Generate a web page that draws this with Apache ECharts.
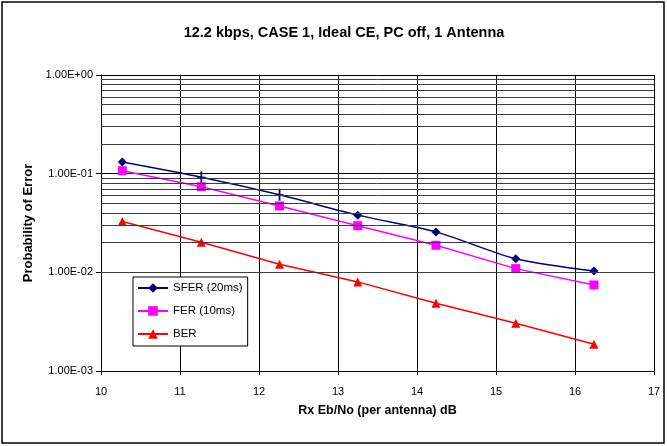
<!DOCTYPE html>
<html>
<head>
<meta charset="utf-8">
<script src="https://cdn.jsdelivr.net/npm/echarts@6/dist/echarts.min.js"></script>
<style>
  html, body { margin: 0; padding: 0; background: #fff; }
  #chart { width: 667px; height: 446px; }
</style>
</head>
<body>
<div id="chart"></div>
<script>
// Rx Eb/No in dB
const ebno = [10.27, 11.27, 12.26, 13.25, 14.24, 15.25, 16.24];
// Error probabilities per measurement type
const sfer = [0.131, 0.092, 0.061, 0.038, 0.0257, 0.0137, 0.0103];
const fer  = [0.107, 0.0738, 0.0471, 0.0297, 0.0188, 0.0109, 0.00745];
const ber  = [0.0327, 0.0202, 0.0121, 0.0080, 0.00486, 0.00305, 0.00187];
const seriesNames = ['SFER (20ms)', 'FER (10ms)', 'BER'];
// minor gridlines of the log axis: 2..9 within each decade
const minorLevels = [];
[0.001, 0.01, 0.1].forEach(function (d) {
  for (let m = 2; m <= 9; m++) minorLevels.push(+(m * d).toPrecision(3));
});

const FONT = '"Liberation Sans", Arial, sans-serif';

function sciLabel(v) {
  const e = Math.round(Math.log10(v));
  const m = v / Math.pow(10, e);
  return m.toFixed(2) + 'E' + (e < 0 ? '-' : '+') + String(Math.abs(e)).padStart(2, '0');
}

function pairs(ys) {
  return ebno.map(function (x, i) { return [x, ys[i]]; });
}

// the 2nd and 3rd SFER points are drawn with a thin upright tick
const sferData = pairs(sfer).map(function (p, i) {
  if (i === 1 || i === 2) {
    return { value: p, symbol: 'path://M4,0h2v5h4v1h-4v5h-2v-5h-4v-1h4z', symbolSize: [9, 12] };
  }
  return p;
});

const chart = echarts.init(document.getElementById('chart'), null, { renderer: 'canvas' });
chart.setOption({
  animation: false,
  backgroundColor: '#fff',
  textStyle: { fontFamily: FONT },
  title: {
    text: '12.2 kbps, CASE 1, Ideal CE, PC off, 1 Antenna',
    left: 339, top: 20, textAlign: 'center',
    textStyle: { fontFamily: FONT, fontSize: 14.5, fontWeight: 'bold', color: '#000' }
  },
  graphic: [{
    type: 'rect', silent: true, z: 100,
    shape: { x: 2, y: 2, width: 662, height: 441 },
    style: { fill: 'none', stroke: '#000', lineWidth: 1.5 }
  }],
  legend: {
    orient: 'vertical', left: 133, top: 277,
    data: seriesNames,
    itemWidth: 30, itemHeight: 12, itemGap: 11,
    padding: [5, 5, 6, 4],
    borderColor: '#000', borderWidth: 1, backgroundColor: '#fff',
    textStyle: { fontFamily: FONT, fontSize: 11.5, color: '#000' }
  },
  grid: { left: 101, right: 13, top: 75, bottom: 75, containLabel: false },
  xAxis: {
    type: 'value', min: 10, max: 17, interval: 1,
    name: 'Rx Eb/No (per antenna) dB', nameLocation: 'middle', nameGap: 33,
    nameTextStyle: { fontFamily: FONT, fontSize: 12.5, fontWeight: 'bold', color: '#000' },
    axisLine: { onZero: false, lineStyle: { color: '#000', width: 1 } },
    axisTick: { length: 4, lineStyle: { color: '#000' } },
    axisLabel: { margin: 15, fontFamily: FONT, fontSize: 11, color: '#000' },
    splitLine: { show: true, lineStyle: { color: '#000', width: 1 } }
  },
  yAxis: {
    type: 'log', logBase: 10, min: 0.001, max: 1,
    name: 'Probability of Error', nameLocation: 'middle', nameGap: 63,
    nameTextStyle: { fontFamily: FONT, fontSize: 13, fontWeight: 'bold', color: '#000' },
    axisLine: { show: true, lineStyle: { color: '#000', width: 1 } },
    axisTick: { show: true, length: 5, lineStyle: { color: '#000' } },
    axisLabel: { margin: 8, fontFamily: FONT, fontSize: 11, color: '#000', formatter: sciLabel },
    splitLine: { show: true, lineStyle: { color: '#000', width: 1 } }
  },
  series: [
    {
      name: 'minor-grid', type: 'line', data: [], silent: true,
      markLine: {
        silent: true, symbol: 'none', animation: false,
        label: { show: false },
        lineStyle: { type: 'solid', color: '#3c3c3c', width: 1 },
        data: minorLevels.map(function (v) { return { yAxis: v }; })
      }
    },
    {
      name: seriesNames[0], type: 'line', data: sferData, smooth: 0.25,
      symbol: 'diamond', symbolSize: 9,
      lineStyle: { color: '#000080', width: 1.5 },
      itemStyle: { color: '#000080' }
    },
    {
      name: seriesNames[1], type: 'line', data: pairs(fer),
      symbol: 'rect', symbolSize: 9,
      lineStyle: { color: '#FF00FF', width: 1.5 },
      itemStyle: { color: '#FF00FF' }
    },
    {
      name: seriesNames[2], type: 'line', data: pairs(ber),
      symbol: 'triangle', symbolSize: 9,
      lineStyle: { color: '#FF0000', width: 1.5 },
      itemStyle: { color: '#FF0000' }
    }
  ]
});
</script>
</body>
</html>
